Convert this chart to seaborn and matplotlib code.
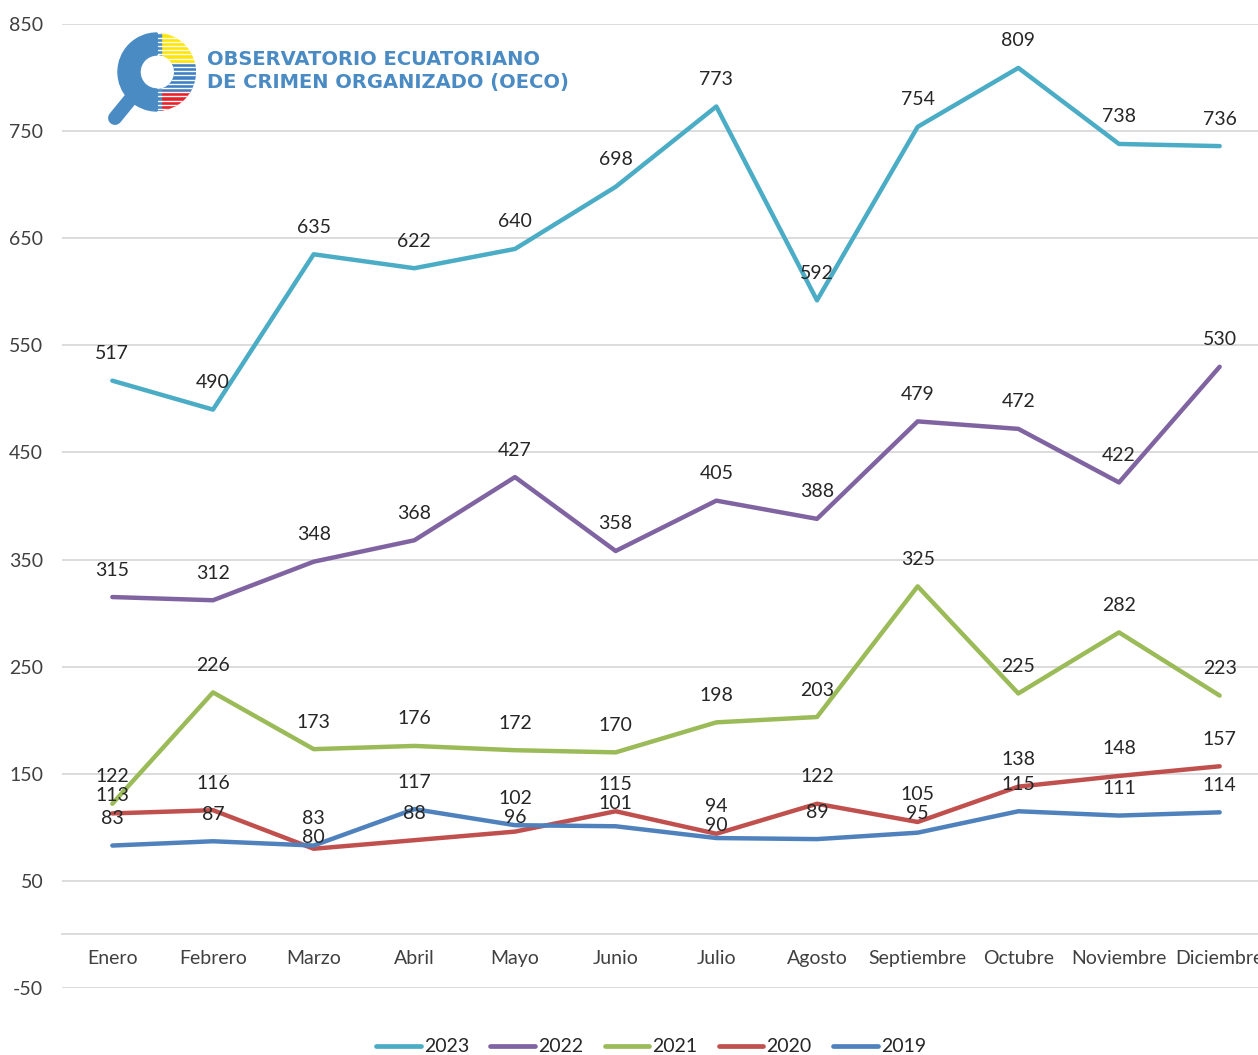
import matplotlib
matplotlib.use("Agg")
import matplotlib.pyplot as plt
import seaborn as sns
import pandas as pd
import numpy as np
from matplotlib.patches import Wedge, Rectangle

months = ["Enero", "Febrero", "Marzo", "Abril", "Mayo", "Junio", "Julio",
          "Agosto", "Septiembre", "Octubre", "Noviembre", "Diciembre"]
years = ["2023", "2022", "2021", "2020", "2019"]
v2023 = [517, 490, 635, 622, 640, 698, 773, 592, 754, 809, 738, 736]
v2022 = [315, 312, 348, 368, 427, 358, 405, 388, 479, 472, 422, 530]
v2021 = [122, 226, 173, 176, 172, 170, 198, 203, 325, 225, 282, 223]
v2020 = [113, 116, 80, 88, 96, 115, 94, 122, 105, 138, 148, 157]
v2019 = [83, 87, 83, 117, 102, 101, 90, 89, 95, 115, 111, 114]
yticks = [-50, 50, 150, 250, 350, 450, 550, 650, 750, 850]
colors = ["#4BACC6", "#8064A2", "#9BBB59", "#C0504D", "#4F81BD"]
logo_text = "OBSERVATORIO ECUATORIANO\nDE CRIMEN ORGANIZADO (OECO)"

series = [v2023, v2022, v2021, v2020, v2019]
rows = []
for y, vals in zip(years, series):
    for i, v in enumerate(vals):
        rows.append({"idx": i, "value": v, "year": y})
df = pd.DataFrame(rows)

sns.set_style("white")
plt.rcParams["font.family"] = ["Lato", "DejaVu Sans"]

W, H = 1258, 1055
fig = plt.figure(figsize=(W / 100, H / 100), dpi=100)
ax = fig.add_axes([62 / W, 1 - 988 / H, 1208 / W, (988 - 24) / H])

sns.lineplot(data=df, x="idx", y="value", hue="year", hue_order=years,
             palette=colors, linewidth=3.2, ax=ax, sort=False,
             estimator=None, legend=True, solid_capstyle="round")

for s in ["top", "right", "left"]:
    ax.spines[s].set_visible(False)
ax.spines["bottom"].set_position(("data", 0))
ax.spines["bottom"].set_color("#D9D9D9")
ax.spines["bottom"].set_linewidth(1.3)

ax.set_xlim(-0.5, 11.5)
ax.set_ylim(-50, 850)
ax.set_yticks(yticks)
ax.set_yticklabels([str(t) for t in yticks], fontsize=14, color="#404040")
ax.yaxis.grid(True, color="#D9D9D9", linewidth=1.3)
ax.set_axisbelow(True)
ax.tick_params(axis="y", length=0, pad=13.5)
ax.set_xticks(range(len(months)))
ax.set_xticklabels(months, fontsize=14, color="#404040")
ax.tick_params(axis="x", length=0, pad=11)
ax.set_xlabel("")
ax.set_ylabel("")

# data labels, 27 px above each point; stacked labels in the same month pushed apart
px_per_unit = (988 - 24) / 900.0
for i in range(len(months)):
    labs = sorted([vals[i] for vals in series], reverse=True)
    prev_px = None
    for v in labs:
        off = 27.0
        ypx = v * px_per_unit + off
        if prev_px is not None and prev_px - ypx < 19:
            ypx = prev_px - 19
            off = ypx - v * px_per_unit
        prev_px = ypx
        ax.annotate(str(v), (i, v), xytext=(0, off * 0.72), textcoords="offset points",
                    ha="center", va="center", fontsize=14, color="#262626")

leg = ax.legend(loc="center", frameon=False, ncol=5, fontsize=14,
                handlelength=2.3, columnspacing=1.1, handletextpad=0.15)
leg.set_bbox_to_anchor((651 / W, 1 - 1047 / H), transform=fig.transFigure)
for line in leg.get_lines():
    line.set_linewidth(3.4)
    line.set_solid_capstyle("round")

# Logo
lax = fig.add_axes([100 / W, 1 - 130 / H, 100 / W, 100 / H])
lax.set_xlim(0, 100)
lax.set_ylim(0, 100)
lax.axis("off")
cx, cy, r, w = 57, 58, 39, 22
blue = "#4A8BC4"
lax.plot([cx - 24, 15], [cy - 24, 12], color=blue, linewidth=10, solid_capstyle="round")
lax.add_patch(Wedge((cx, cy), r, 90, 270, width=w, color=blue))
clip = Wedge((cx, cy), r, -90, 90, width=w, transform=lax.transData)
lax.add_patch(Wedge((cx, cy), r, -90, 90, width=w, facecolor="none", edgecolor="none"))
bands = [(cy + 8, cy + r, "#FFE600"), (cy - 20, cy + 8, "#3F7FC4"), (cy - r, cy - 20, "#E8202A")]
for y0, y1, c in bands:
    rect = Rectangle((cx, y0), r, y1 - y0, color=c)
    lax.add_patch(rect)
    rect.set_clip_path(clip)
for yy in np.arange(cy - r + 2, cy + r, 4.2):
    ln, = lax.plot([cx + 1, cx + r], [yy, yy], color="white", linewidth=1.0)
    ln.set_clip_path(clip)
lax.add_patch(Rectangle((cx - 1, cy - r), 5, 2 * r, color=blue, clip_path=clip))
lax.set_aspect("equal")

fig.text(207 / W, 1 - 71 / H, logo_text, fontsize=14, fontweight="bold",
         color="#4A8BC4", va="center", ha="left", family=["DejaVu Sans"],
         linespacing=1.3)

fig.savefig("out.png", dpi=100)
